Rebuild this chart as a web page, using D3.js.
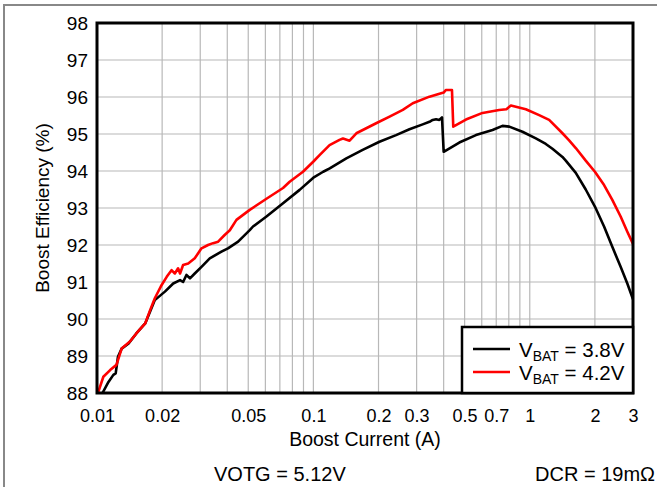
<!DOCTYPE html>
<html>
<head>
<meta charset="utf-8">
<title>Boost Efficiency vs Boost Current</title>
<script src="https://d3js.org/d3.v7.min.js"></script>
<style>
  body { margin: 0; background: #fff; }
  svg text { font-family: "Liberation Sans", Arial, sans-serif; fill: #000; }
</style>
</head>
<body>
<svg width="657" height="487"></svg>
<script>
// VBAT = 3.8V (black)
const current38 = [0.0106, 0.0113, 0.0119, 0.0122, 0.0125, 0.0130, 0.0140, 0.0152, 0.0167, 0.0176,
  0.0185, 0.0206, 0.0225, 0.0242, 0.0250, 0.0259, 0.0269, 0.0283, 0.0304, 0.0332,
  0.0376, 0.0403, 0.0449, 0.0508, 0.0526, 0.0607, 0.0724, 0.0864, 0.100, 0.111,
  0.119, 0.142, 0.169, 0.202, 0.241, 0.278, 0.320, 0.344, 0.356, 0.369,
  0.382, 0.393, 0.400, 0.4725, 0.564, 0.673, 0.748, 0.804, 0.925, 1.067,
  1.186, 1.273, 1.416, 1.467, 1.632, 1.814, 2.0, 2.205, 2.407, 2.63,
  2.824, 3.0];
const eff38 = [88.0, 88.3, 88.49, 88.53, 88.98, 89.2, 89.34, 89.61, 89.88, 90.2,
  90.51, 90.74, 90.96, 91.05, 91.0, 91.19, 91.1, 91.23, 91.41, 91.64,
  91.82, 91.91, 92.09, 92.4, 92.5, 92.77, 93.13, 93.49, 93.82, 93.98,
  94.07, 94.34, 94.57, 94.79, 94.97, 95.13, 95.26, 95.33, 95.38, 95.40,
  95.38, 95.45, 94.52, 94.77, 94.97, 95.11, 95.22, 95.2, 95.06, 94.88,
  94.73, 94.60, 94.38, 94.28, 93.95, 93.50, 93.04, 92.5, 91.95, 91.41,
  90.96, 90.53];

// VBAT = 4.2V (red)
const current42 = [0.0101, 0.0107, 0.0115, 0.0123, 0.0130, 0.0142, 0.0152, 0.0167, 0.0176, 0.0185,
  0.0199, 0.0210, 0.0221, 0.0229, 0.0237, 0.0242, 0.0250, 0.0264, 0.0283, 0.0304,
  0.0326, 0.0344, 0.0363, 0.0389, 0.0411, 0.0441, 0.0508, 0.0607, 0.0724, 0.0777,
  0.0895, 0.0998, 0.1068, 0.1188, 0.132, 0.137, 0.147, 0.158, 0.195, 0.225,
  0.259, 0.288, 0.344, 0.400, 0.410, 0.437, 0.443, 0.507, 0.605, 0.722,
  0.780, 0.818, 0.959, 1.105, 1.229, 1.416, 1.520, 1.632, 1.814, 2.0,
  2.205, 2.407, 2.63, 2.824, 3.0];
const eff42 = [88.0, 88.44, 88.62, 88.76, 89.2, 89.39, 89.61, 89.88, 90.24, 90.56,
  90.92, 91.14, 91.32, 91.23, 91.37, 91.23, 91.46, 91.5, 91.64, 91.91,
  92.0, 92.05, 92.09, 92.27, 92.4, 92.68, 92.95, 93.25, 93.54, 93.71,
  93.98, 94.25, 94.43, 94.70, 94.84, 94.88, 94.82, 95.02, 95.29, 95.47,
  95.65, 95.83, 96.01, 96.12, 96.19, 96.19, 95.2, 95.39, 95.57, 95.65,
  95.67, 95.77, 95.67, 95.51, 95.38, 95.02, 94.83, 94.62, 94.28, 93.98,
  93.62, 93.22, 92.77, 92.36, 92.03];

const xTickValues = [0.01, 0.02, 0.05, 0.1, 0.2, 0.3, 0.5, 0.7, 1, 2, 3];
const xTickLabels = ["0.01", "0.02", "0.05", "0.1", "0.2", "0.3", "0.5", "0.7", "1", "2", "3"];
const xGridValues = [0.02, 0.03, 0.04, 0.05, 0.06, 0.07, 0.08, 0.09,
  0.1, 0.2, 0.3, 0.4, 0.5, 0.6, 0.7, 0.8, 0.9, 1, 2];
const yTickValues = [88, 89, 90, 91, 92, 93, 94, 95, 96, 97, 98];

const series = [
  { label: "3.8V", color: "#000000", x: current38, y: eff38 },
  { label: "4.2V", color: "#ff0000", x: current42, y: eff42 }
];

const svg = d3.select("svg");
const plotL = 97, plotR = 633, plotT = 23, plotB = 393;

const x = d3.scaleLog().domain([0.01, 3]).range([plotL, plotR]);
const y = d3.scaleLinear().domain([88, 98]).range([plotB, plotT]);

// outer gray frame
svg.append("rect")
  .attr("x", 4).attr("y", 5)
  .attr("width", 660).attr("height", 490)
  .attr("fill", "none")
  .attr("stroke", "#888")
  .attr("stroke-width", 2);

// grid
const grid = svg.append("g").attr("stroke", "#b8b8b8").attr("stroke-width", 1.2);
grid.selectAll(".vg").data(xGridValues).enter().append("line")
  .attr("x1", d => x(d)).attr("x2", d => x(d))
  .attr("y1", plotT).attr("y2", plotB);
grid.selectAll(".hg").data(yTickValues.slice(1, -1)).enter().append("line")
  .attr("x1", plotL).attr("x2", plotR)
  .attr("y1", d => y(d)).attr("y2", d => y(d));

// curves
svg.append("clipPath").attr("id", "plotClip")
  .append("rect")
  .attr("x", plotL).attr("y", plotT)
  .attr("width", plotR - plotL).attr("height", plotB - plotT);

const line = d3.line()
  .x(d => x(d[0]))
  .y(d => y(d[1]));

svg.append("g").attr("clip-path", "url(#plotClip)")
  .selectAll("path").data(series).enter().append("path")
  .attr("d", s => line(d3.zip(s.x, s.y)))
  .attr("fill", "none")
  .attr("stroke", s => s.color)
  .attr("stroke-width", 2.6)
  .attr("stroke-linejoin", "round");

// axes (labels only; frame drawn separately)
const xAxis = d3.axisBottom(x)
  .tickValues(xTickValues)
  .tickFormat((d, i) => xTickLabels[i])
  .tickSize(0)
  .tickPadding(16);
svg.append("g")
  .attr("transform", `translate(0,${plotB})`)
  .call(xAxis)
  .call(g => g.select(".domain").remove())
  .selectAll("text")
  .attr("font-size", 18)
  .attr("font-family", "Liberation Sans, Arial, sans-serif")
  .attr("fill", "#000");

const yAxis = d3.axisLeft(y)
  .tickValues(yTickValues)
  .tickFormat(d3.format("d"))
  .tickSize(0)
  .tickPadding(9);
svg.append("g")
  .attr("transform", `translate(${plotL},0)`)
  .call(yAxis)
  .call(g => g.select(".domain").remove())
  .selectAll("text")
  .attr("font-size", 19)
  .attr("font-family", "Liberation Sans, Arial, sans-serif")
  .attr("fill", "#000");

// plot frame
svg.append("rect")
  .attr("x", plotL).attr("y", plotT)
  .attr("width", plotR - plotL).attr("height", plotB - plotT)
  .attr("fill", "none")
  .attr("stroke", "#000")
  .attr("stroke-width", 3);

// legend
const legend = svg.append("g");
legend.append("rect")
  .attr("x", 462).attr("y", 327)
  .attr("width", plotR - 462).attr("height", plotB - 327)
  .attr("fill", "#fff")
  .attr("stroke", "#000")
  .attr("stroke-width", 2.5);

const items = legend.selectAll(".item").data(series).enter().append("g")
  .attr("transform", (d, i) => `translate(0,${349 + i * 23})`);
items.append("line")
  .attr("x1", 473).attr("x2", 510)
  .attr("y1", 0).attr("y2", 0)
  .attr("stroke", d => d.color)
  .attr("stroke-width", 2.6);
const lt = items.append("text")
  .attr("x", 519).attr("y", 8)
  .attr("font-size", 20.5);
lt.append("tspan").text("V");
lt.append("tspan").attr("font-size", 14).attr("dy", 4).text("BAT");
lt.append("tspan").attr("dy", -4).text(d => " = " + d.label);

// axis titles
svg.append("text")
  .attr("x", (plotL + plotR) / 2).attr("y", 446)
  .attr("text-anchor", "middle")
  .attr("font-size", 19.5)
  .text("Boost Current (A)");

svg.append("text")
  .attr("transform", `translate(49,${(plotT + plotB) / 2}) rotate(-90)`)
  .attr("text-anchor", "middle")
  .attr("font-size", 19)
  .text("Boost Efficiency (%)");

// conditions
svg.append("text")
  .attr("x", 214).attr("y", 481)
  .attr("font-size", 20)
  .text("VOTG = 5.12V");

svg.append("text")
  .attr("x", 655).attr("y", 481)
  .attr("text-anchor", "end")
  .attr("font-size", 20)
  .text("DCR = 19mΩ");
</script>
</body>
</html>
